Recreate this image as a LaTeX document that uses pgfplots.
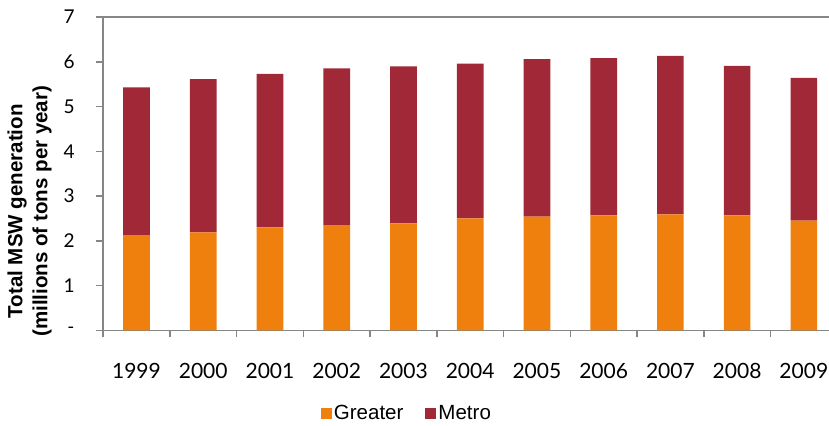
\documentclass[border=0pt]{standalone}
\usepackage{pgfplots}
\pgfplotsset{compat=1.18}
\usepackage{fontspec}
\setmainfont{Lato}
\newfontfamily\arialfont{Liberation Sans}
\definecolor{cGreater}{RGB}{240,128,14}
\definecolor{cMetro}{RGB}{161,41,55}
\definecolor{cAxis}{RGB}{134,134,134}
\begin{document}
\begin{tikzpicture}
\begin{axis}[
  scale only axis,
  width=726pt, height=313pt,
  ybar stacked,
  bar width=0.4,
  xmin=-0.5, xmax=10.39,
  ymin=0, ymax=7,
  enlargelimits=false,
  axis line style={draw=cAxis, line width=1.6pt},
  xtick={0,...,10},
  xticklabels={1999,2000,2001,2002,2003,2004,2005,2006,2007,2008,2009},
  minor xtick={-0.5,0.5,...,9.5},
  xtick pos=bottom, ytick pos=left,
  tick align=outside,
  major x tick style={draw=none},
  minor x tick style={cAxis, line width=1.5pt},
  minor tick length=7pt,
  major tick length=7pt,
  y tick style={cAxis, line width=1.5pt},
  ytick={0,1,...,7},
  yticklabels={-,1,2,3,4,5,6,7},
  xticklabel style={font=\fontsize{21}{24}\selectfont, yshift=-22pt},
  yticklabel style={font=\fontsize{19}{22}\selectfont, xshift=-18pt},
  ylabel={Total MSW generation\\(millions of tons per year)},
  ylabel style={at={(ticklabel cs:0.38,5pt)}, font=\arialfont\bfseries\fontsize{20.5}{25}\selectfont, align=center},
  legend style={at={(0.418,-0.265)}, anchor=center, draw=none, legend columns=2,
    font=\arialfont\fontsize{20.5}{24}\selectfont,
    /tikz/every even column/.append style={column sep=20pt}},
  legend image code/.code={\fill[#1] (0pt,-5.5pt) rectangle (11pt,5.5pt);},
]
\addplot+[fill=cGreater, draw=none] coordinates {
 (0,2.13) (1,2.19) (2,2.30) (3,2.35) (4,2.39) (5,2.50) (6,2.54) (7,2.57) (8,2.59) (9,2.57) (10,2.45)};
\addplot+[fill=cMetro, draw=none] coordinates {
 (0,3.30) (1,3.42) (2,3.43) (3,3.50) (4,3.51) (5,3.46) (6,3.52) (7,3.51) (8,3.54) (9,3.34) (10,3.19)};
\legend{Greater,Metro}
\end{axis}
\fill[cAxis] ([shift={(-0.8pt,-0.9pt)}]current axis.north west) rectangle ([shift={(0pt,0.9pt)}]current axis.north east);
\pgfresetboundingbox
\path[use as bounding box] ([shift={(-103pt,-95pt)}]current axis.south west) rectangle ([shift={(-0.9pt,17pt)}]current axis.north east);
\end{tikzpicture}
\end{document}
